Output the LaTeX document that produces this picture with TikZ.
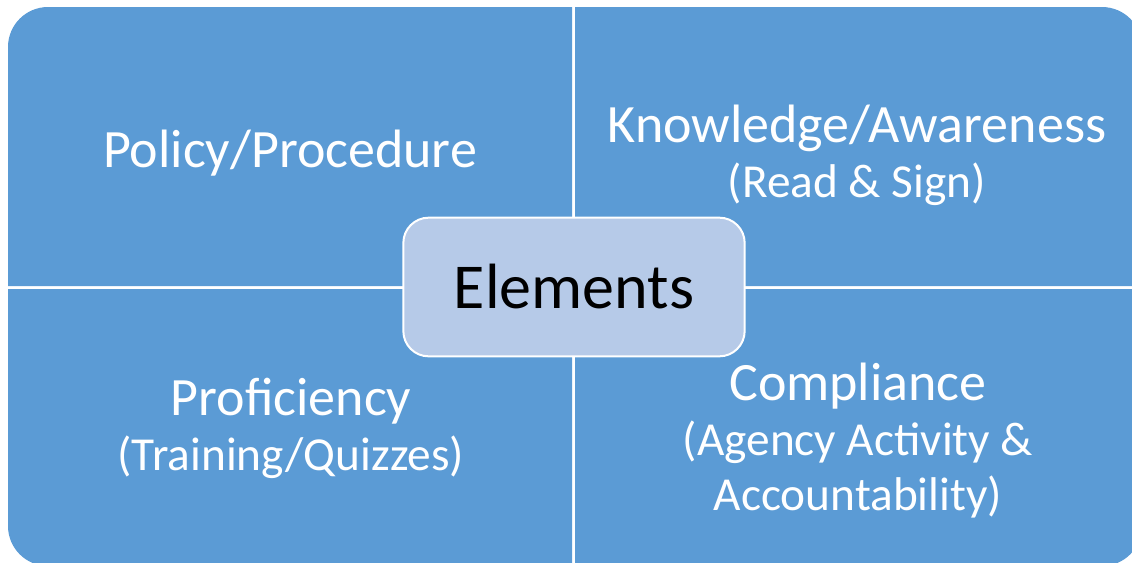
\documentclass[tikz,border=0pt]{standalone}
\usepackage{fontspec}
\setmainfont{Carlito}
\definecolor{panelblue}{RGB}{91,155,213}
\definecolor{hubblue}{RGB}{182,202,232}
\newcommand\bigline{\fontsize{40.5}{41}\selectfont}
\newcommand\smallline{\fontsize{35.5}{41}\selectfont}

\begin{document}
\begin{tikzpicture}[x=0.75pt,y=-0.75pt]
  \tikzset{panel/.style={fill=panelblue},
    label/.style={text=white,align=center,anchor=base,inner sep=0pt,font=\bigline},
    hub/.style={draw=white,line width=1.5pt,fill=hubblue,rounded corners=19pt,
      minimum width=256pt,minimum height=104pt,inner sep=0pt}}
  \useasboundingbox (0,0) rectangle (1132,562);

  % four quadrants, outer corner rounded only
  \fill[panel] (572,286) -- (8,286) [rounded corners=30pt] -- (8,7) [sharp corners] -- (572,7) -- cycle;
  \fill[panel] (575,286) -- (575,7) [rounded corners=30pt] -- (1142,7) [sharp corners] -- (1142,286) -- cycle;
  \fill[panel] (572,289) -- (8,289) [rounded corners=30pt] -- (8,566) [sharp corners] -- (572,566) -- cycle;
  \fill[panel] (575,289) -- (575,566) [rounded corners=30pt] -- (1142,566) [sharp corners] -- (1142,289) -- cycle;

  % base = baseline of the last line
  \node[label] (policy) at (290,167) {Policy/Procedure};
  \node[label] (knowledge) at (857,197) {Knowledge/Awareness\\ \smallline (Read \& Sign)};
  \node[label] (proficiency) at (291,470) {Proficiency\\ \smallline (Training/Quizzes)};
  \node[label] (compliance) at (858,510) {Compliance\\ \smallline (Agency Activity \&\\ \smallline Accountability)};

  \node[hub] (elements) at (574,287) {\fontsize{48}{50}\selectfont Elements};
\end{tikzpicture}
\end{document}
